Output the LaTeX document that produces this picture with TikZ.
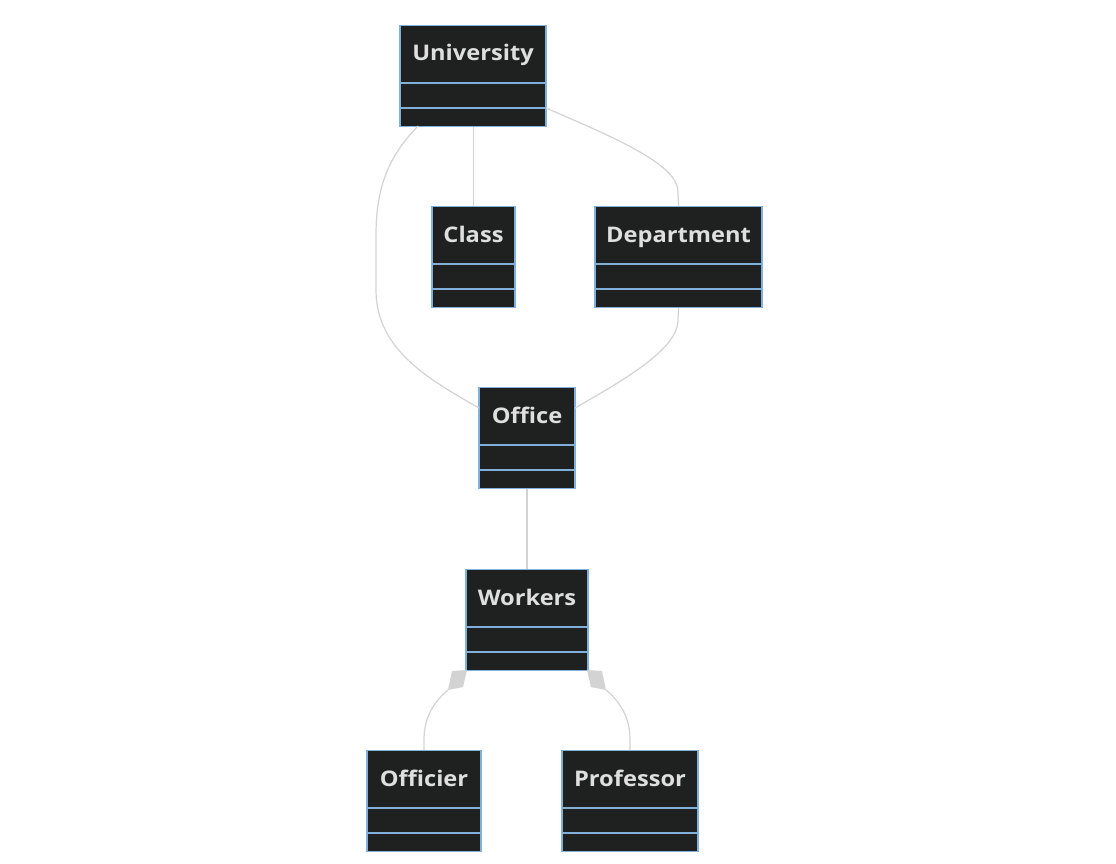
\documentclass[tikz,border=0pt]{standalone}
\usepackage{fontspec}
\setmainfont{Open Sans}[FakeStretch=1.1]
\usetikzlibrary{calc}
\definecolor{boxfill}{HTML}{1F2020}
\definecolor{boxline}{HTML}{81B1DB}
\definecolor{txt}{HTML}{E0DFDF}
\definecolor{conn}{HTML}{D3D3D3}
\tikzset{
  classbox/.style={draw=boxline, fill=boxfill, line width=1.2pt, inner sep=0pt, minimum height=101pt, anchor=north},
  classtitle/.style={text=txt, font=\bfseries\fontsize{21.5}{26}\selectfont, anchor=base, inner sep=0pt},
  divider/.style={draw=boxline, line width=1.2pt},
  link/.style={draw=conn, line width=1.2pt},
  compo/.style={fill=conn, draw=none}
}
\newcommand{\umlclass}[5]{%
  \node[classbox, minimum width=#4pt] (#1) at (#2,#3) {};
  \node[classtitle] (#1t) at (#2,#3+36) {#5};
  \draw[divider] ([yshift=-58pt]#1.north west) -- ([yshift=-58pt]#1.north east);
  \draw[divider] ([yshift=-83pt]#1.north west) -- ([yshift=-83pt]#1.north east);
}
\begin{document}
\begin{tikzpicture}[x=1pt, y=-1pt]
\useasboundingbox[fill=white] (0,0) rectangle (1116,864);
\coordinate (UDs) at (546,108);
\coordinate (UOs) at (418,126);
\coordinate (OfL) at (479,408);
\coordinate (OfR) at (575,408);
\coordinate (WL) at (467,670);
\coordinate (WR) at (587,670);
\coordinate (dL) at (448,690);
\coordinate (dR) at (606,690);

\umlclass{U}{473}{25}{146}{University}
\umlclass{C}{473.5}{206}{83}{Class}
\umlclass{D}{678.5}{206}{167}{Department}
\umlclass{O}{527}{387}{96}{Office}
\umlclass{W}{527}{569}{122}{Workers}
\umlclass{F}{424}{750}{114}{Officier}
\umlclass{P}{630}{750}{136}{Professor}

\draw[link] (U.south -| C.north) -- (C.north);
\draw[link] (UDs) .. controls (620,140) and (678,165) .. (678,192) -- (D.north);
\draw[link] (UOs) .. controls (390,155) and (376,185) .. (376,235) -- (376,290) .. controls (376,350) and (430,380) .. (OfL);
\draw[link] (D.south) -- (678,320) .. controls (678,350) and (620,382) .. (OfR);
\draw[link] (O.south) -- (W.north);
\draw[link] (dL) .. controls (430,705) and (424,722) .. (424,740) -- (F.north);
\draw[link] (dR) .. controls (624,705) and (630,722) .. (630,740) -- (P.north);
\fill[compo] (WL) -- (452,671) -- (dL) -- (463,687) -- cycle;
\fill[compo] (WR) -- (602,671) -- (dR) -- (591,687) -- cycle;
\end{tikzpicture}
\end{document}
